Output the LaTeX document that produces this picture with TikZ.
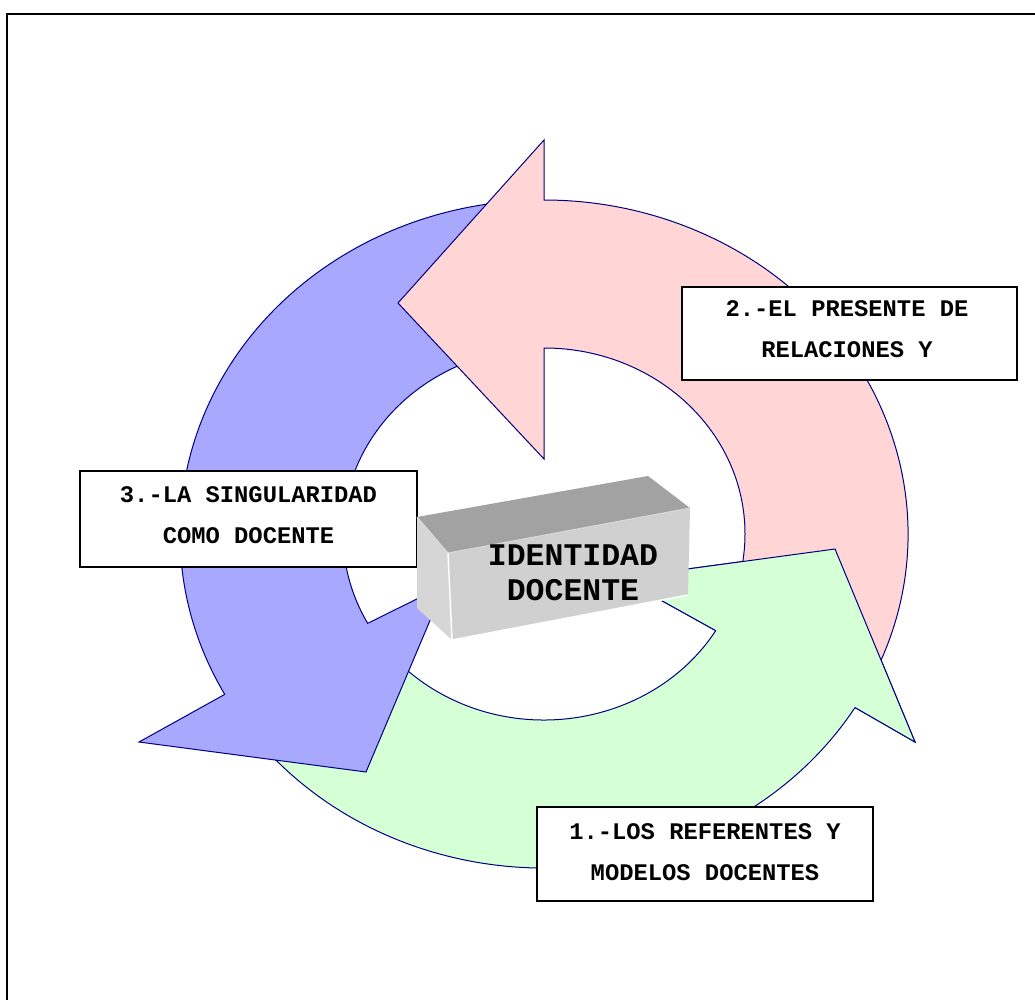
\documentclass[tikz,border=0pt]{standalone}
\usepackage{fontspec}
\newfontfamily\courb{Liberation Mono}
\usetikzlibrary{calc}
\definecolor{arrowline}{RGB}{0,0,128}
\definecolor{pinkfill}{RGB}{255,213,213}
\definecolor{bluefill}{RGB}{168,168,255}
\definecolor{greenfill}{RGB}{213,255,213}
\definecolor{topgray}{RGB}{162,162,162}
\definecolor{frontgray}{RGB}{208,208,208}
\definecolor{sidegray}{RGB}{214,214,214}
\begin{document}
\begin{tikzpicture}[x=1pt,y=1pt,
  cyc/.style={draw=arrowline, line width=1pt, line join=miter},
  labelbox/.style={draw=black, line width=2pt, fill=white, inner sep=0pt, minimum width=336pt, minimum height=94pt},
  labeltext/.style={align=center, inner sep=0pt, font=\courb\bfseries\fontsize{23.8}{41}\selectfont},
  coretext/.style={align=center, inner sep=0pt, font=\courb\bfseries\fontsize{31.5}{35}\selectfont}]
\useasboundingbox (0,0) rectangle (1035,-999);
\fill[white] (0,0) rectangle (1035,-999);
\draw[line width=2pt] (7,-1010) -- (7,-14) -- (1045,-14);
\coordinate (c) at (544,-534);
% green arrow (bottom)
\path[cyc, fill=greenfill] ($(c)+(213:364pt and 334pt)$)
  arc[start angle=213, end angle=328.7, x radius=364pt, y radius=334pt]
  -- (915,-742) -- (835,-549) -- (621,-578)
  -- ($(c)+(328.7:201pt and 186pt)$)
  arc[start angle=328.7, end angle=213, x radius=201pt, y radius=186pt] -- cycle;
% blue arrow (left)
\path[cyc, fill=bluefill] ($(c)+(94:364pt and 334pt)$)
  arc[start angle=94, end angle=208.7, x radius=364pt, y radius=334pt]
  -- (139,-742) -- (366,-772) -- (445,-585)
  -- ($(c)+(208.7:201pt and 186pt)$)
  arc[start angle=208.7, end angle=94, x radius=201pt, y radius=186pt] -- cycle;
% pink arrow (top right)
\path[cyc, fill=pinkfill] ($(c)+(-26:364pt and 334pt)$)
  arc[start angle=-26, end angle=90, x radius=364pt, y radius=334pt]
  -- (544,-140) -- (398,-303) -- (544,-459)
  -- ($(c)+(90:201pt and 186pt)$)
  arc[start angle=90, end angle=-26, x radius=201pt, y radius=186pt] -- cycle;
% green head on top of pink tail
\fill[greenfill] ($(c)+(328.7:364pt and 334pt)$) -- (915,-742) -- (835,-549) -- (621,-578)
  -- ($(c)+(328.7:201pt and 186pt)$) -- cycle;
\draw[cyc] ($(c)+(328.7:364pt and 334pt)$) -- (915,-742) -- (835,-549) -- (621,-578)
  -- ($(c)+(328.7:201pt and 186pt)$);
% label boxes
\node[labelbox, minimum width=335.5pt, minimum height=93pt] (b2) at (849.25,-333.5) {};
\node[labeltext] (t2) at (847,-329) {2.-EL PRESENTE DE\\RELACIONES Y};
\node[labelbox, minimum width=337pt, minimum height=96pt] (b3) at (248.5,-519) {};
\node[labeltext] (t3) at (248.5,-515.5) {3.-LA SINGULARIDAD\\COMO DOCENTE};
\node[labelbox, minimum width=336pt, minimum height=94pt] (b1) at (705,-854) {};
\node[labeltext] (t1) at (705,-852) {1.-LOS REFERENTES Y\\MODELOS DOCENTES};
% central 3D block
\fill[topgray] (417,-517) -- (648,-476) -- (690,-508) -- (448,-553) -- cycle;
\fill[frontgray] (448,-553) -- (690,-508) -- (688,-595) -- (452,-640) -- cycle;
\fill[sidegray] (417,-517) -- (448,-553) -- (452,-640) -- (417,-608) -- cycle;
\draw[white, line width=1.5pt] (448,-553) -- (452,-640) -- (688,-595);
\draw[white!85!black, line width=1pt] (417,-517) -- (448,-553) -- (690,-508);
\node[coretext] (core) at (573,-572.5) {IDENTIDAD\\DOCENTE};
\end{tikzpicture}
\end{document}
